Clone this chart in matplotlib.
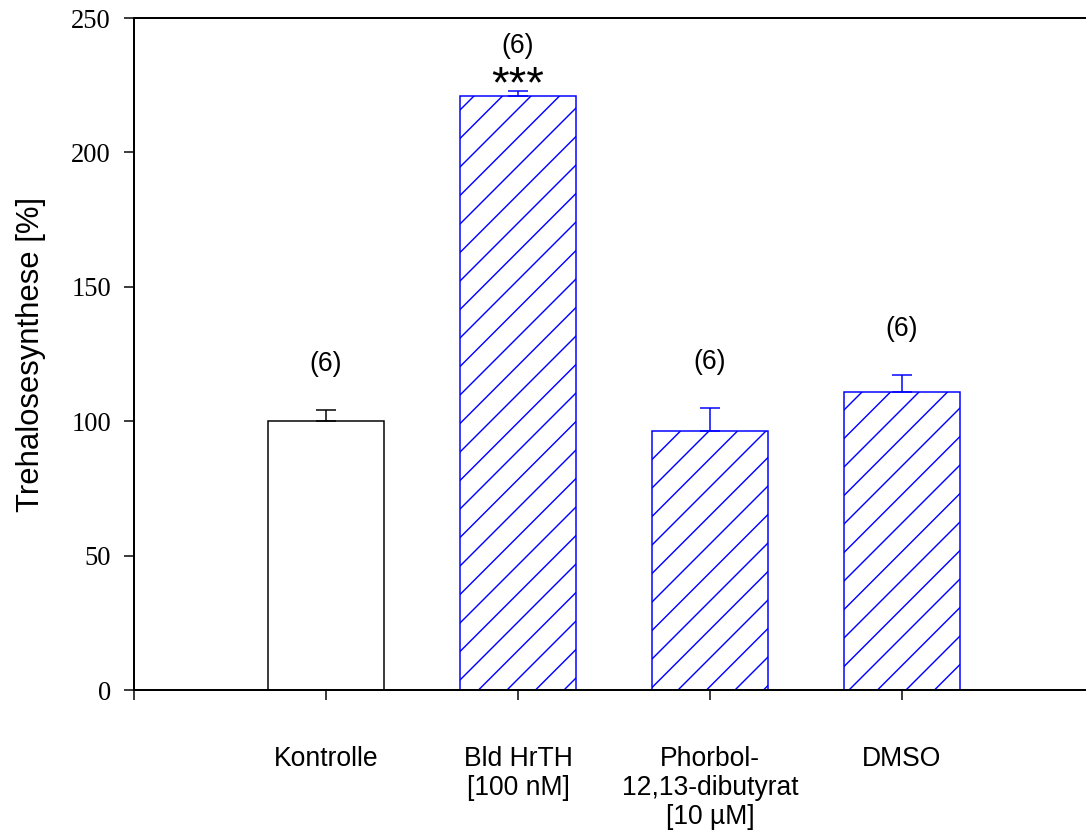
import matplotlib
matplotlib.use("Agg")
import matplotlib.pyplot as plt

# Data
categories = ["Kontrolle", "Bld HrTH\n[100 nM]", "Phorbol-\n12,13-dibutyrat\n[10 µM]", "DMSO"]
means = [100.0, 221.0, 96.5, 110.7]
sem = [4.0, 2.0, 8.5, 6.6]
n_labels = ["(6)", "(6)", "(6)", "(6)"]
signif = ["", "***", "", ""]
hatched = [False, True, True, True]
yticks = [0, 50, 100, 150, 200, 250]

DPI = 171


def px(v):
    """Convert pixel size to points at the figure dpi."""
    return v * 72.0 / DPI


plt.rcParams["hatch.linewidth"] = 0.6

fig = plt.figure(figsize=(1086 / DPI, 834 / DPI), dpi=DPI)
ax = fig.add_axes([134 / 1086, 144 / 834, 960 / 1086, 672 / 834])

x = list(range(1, len(categories) + 1))
for xi, m, e, h in zip(x, means, sem, hatched):
    col = "#0000ff" if h else "black"
    ax.bar(xi, m, width=0.6, facecolor="white", edgecolor=col,
           linewidth=px(1.5), hatch="//" if h else None, zorder=2)
    ax.errorbar(xi, m, yerr=[[0], [e]], fmt="none", ecolor=col,
                elinewidth=px(1.5), capsize=px(10), capthick=px(1.5), zorder=3)

sans = ["Liberation Sans", "DejaVu Sans"]
for xi, m, e, lab, s in zip(x, means, sem, n_labels, signif):
    top = m + e
    if s:
        ax.annotate(s, (xi, top), xytext=(0, px(-7)), textcoords="offset points",
                    ha="center", va="baseline", fontsize=px(45), family=sans)
        ax.annotate(lab, (xi, top), xytext=(0, px(45)), textcoords="offset points",
                    ha="center", va="center", fontsize=px(26.5), family=sans)
    else:
        ax.annotate(lab, (xi, top), xytext=(0, px(46)), textcoords="offset points",
                    ha="center", va="center", fontsize=px(26.5), family=sans)

ax.set_xlim(0, 5)
ax.set_ylim(0, 250)
ax.set_xticks([0] + x)
ax.set_xticklabels([""] + categories, fontsize=px(26.5), family=sans,
                   linespacing=1.16)
ax.set_yticks(yticks)
ax.set_yticklabels([str(t) for t in yticks], fontsize=px(26.5),
                   family=["Liberation Serif", "DejaVu Serif"])

ax.tick_params(axis="x", direction="out", length=px(10), width=px(1.5), pad=px(46))
ax.tick_params(axis="y", direction="out", length=px(10), width=px(1.5), pad=px(13))

for side in ["left", "bottom", "top", "right"]:
    ax.spines[side].set_linewidth(px(2))
    ax.spines[side].set_color("black")

ax.set_ylabel("Trehalosesynthese [%]", fontsize=px(31), family=sans, labelpad=px(25))

fig.savefig("out.png", dpi=DPI)
